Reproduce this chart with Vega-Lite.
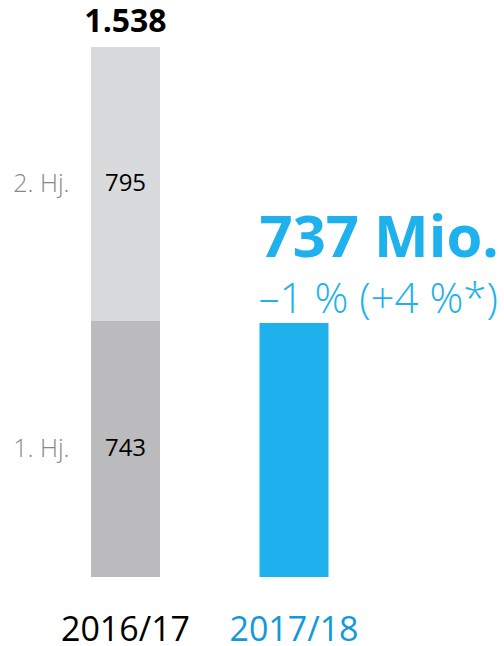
{
  "$schema": "https://vega.github.io/schema/vega-lite/v6.json",
  "width": 504,
  "height": 577,
  "padding": {"top": 0, "left": 0, "right": 0, "bottom": 69},
  "autosize": {"type": "none"},
  "config": {
    "view": {"stroke": null},
    "font": "Open Sans",
    "locale": {"number": {"decimal": ",", "thousands": ".", "grouping": [3], "currency": ["", " €"]}}
  },
  "datasets": {
    "bars": [
      {"year": "2016/17", "part": "1. Hj.", "value": 743},
      {"year": "2016/17", "part": "2. Hj.", "value": 795},
      {"year": "2017/18", "part": "Gesamt", "value": 737, "change": "–1 % (+4 %*)"}
    ]
  },
  "data": {"name": "bars"},
  "encoding": {
    "x": {
      "field": "year",
      "type": "nominal",
      "title": null,
      "sort": ["2016/17", "2017/18"],
      "scale": {"domain": ["2016/17", "2017/18"], "range": [91, 328.5], "paddingInner": 0.5905, "paddingOuter": 0},
      "axis": {
        "orient": "bottom",
        "domain": false,
        "ticks": false,
        "labelAngle": 0,
        "labelFontSize": 34,
        "labelFont": "Open Sans",
        "labelPadding": 36,
        "labelColor": {"condition": {"test": "datum.value === '2017/18'", "value": "#1399d8"}, "value": "#000000"}
      }
    }
  },
  "layer": [
    {
      "mark": {"type": "bar"},
      "encoding": {
        "y": {"field": "value", "type": "quantitative", "stack": "zero", "scale": {"domain": [0, 1674.5], "nice": false}, "axis": null},
        "color": {"field": "part", "type": "nominal", "legend": null, "scale": {"domain": ["1. Hj.", "2. Hj.", "Gesamt"], "range": ["#bbbbbd", "#d9dadc", "#1eb1ee"]}},
        "order": {"field": "part", "sort": "ascending"}
      }
    },
    {
      "transform": [
        {"filter": "datum.year === '2016/17'"},
        {"stack": "value", "groupby": ["year"], "sort": [{"field": "part", "order": "ascending"}], "as": ["v0", "v1"]},
        {"calculate": "(datum.v0 + datum.v1) / 2", "as": "mid"}
      ],
      "layer": [
        {
          "mark": {"type": "text", "fontSize": 24, "color": "#000000", "baseline": "middle", "align": "center"},
          "encoding": {
            "y": {"field": "mid", "type": "quantitative"},
            "text": {"field": "value", "type": "quantitative", "format": "d"}
          }
        },
        {
          "mark": {"type": "text", "fontSize": 25, "color": "#888888", "baseline": "middle", "align": "right", "dx": -56, "fontWeight": 300},
          "encoding": {
            "y": {"field": "mid", "type": "quantitative"},
            "text": {"field": "part", "type": "nominal"}
          }
        }
      ]
    },
    {
      "transform": [
        {"filter": "datum.year === '2016/17'"},
        {"aggregate": [{"op": "sum", "field": "value", "as": "total"}], "groupby": ["year"]}
      ],
      "mark": {"type": "text", "fontSize": 32, "fontWeight": "bold", "color": "#000000", "baseline": "alphabetic", "align": "center", "dy": -15},
      "encoding": {
        "y": {"field": "total", "type": "quantitative"},
        "text": {"field": "total", "type": "quantitative", "format": ",d"}
      }
    },
    {
      "transform": [
        {"filter": "datum.year === '2017/18'"},
        {"calculate": "datum.value + ' Mio.'", "as": "headline"}
      ],
      "layer": [
        {
          "mark": {"type": "text", "fontSize": 58, "fontWeight": "bold", "color": "#1eb1ee", "baseline": "alphabetic", "align": "left", "dy": -66, "dx": 0},
          "encoding": {
            "x": {"field": "year", "type": "nominal", "bandPosition": 0},
            "y": {"field": "value", "type": "quantitative"},
            "text": {"field": "headline", "type": "nominal"}
          }
        },
        {
          "mark": {"type": "text", "fontSize": 42, "fontWeight": 300, "color": "#1eb1ee", "baseline": "alphabetic", "align": "left", "dy": -10, "dx": -1},
          "encoding": {
            "x": {"field": "year", "type": "nominal", "bandPosition": 0},
            "y": {"field": "value", "type": "quantitative"},
            "text": {"field": "change", "type": "nominal"}
          }
        }
      ]
    }
  ]
}
